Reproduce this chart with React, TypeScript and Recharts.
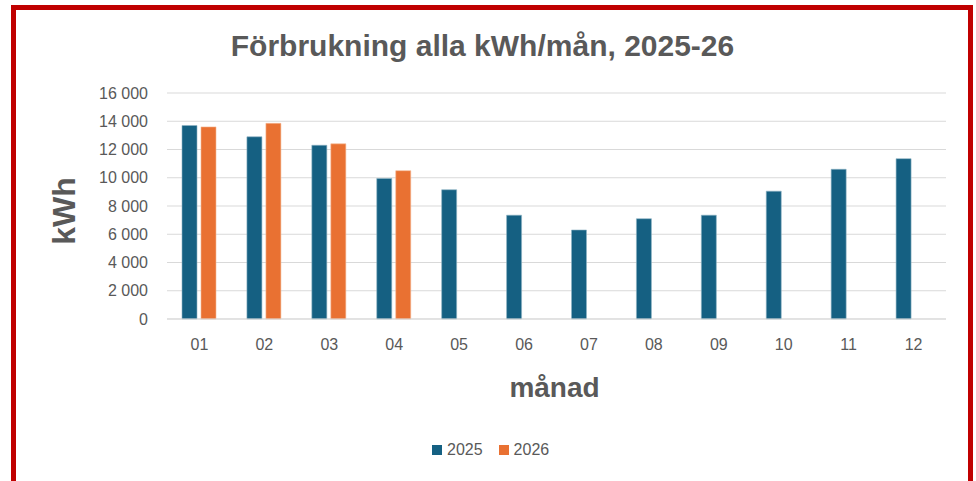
import { BarChart, Bar, XAxis, YAxis, CartesianGrid, Legend } from "recharts";

const MONTHS = ["01", "02", "03", "04", "05", "06", "07", "08", "09", "10", "11", "12"];
const KWH_2025 = [13700, 12900, 12300, 9950, 9150, 7350, 6300, 7100, 7350, 9050, 10600, 11350];
const KWH_2026 = [13600, 13850, 12400, 10500, null, null, null, null, null, null, null, null];
const Y_TICKS = [0, 2000, 4000, 6000, 8000, 10000, 12000, 14000, 16000];

const BLUE = "#156082";
const ORANGE = "#E97132";
const TEXT = "#595959";
const FONT = "'Liberation Sans', Arial, sans-serif";

const fmt = (v: number) => v.toLocaleString("sv-SE").replace(/\u00a0/g, " ");

// y axis title, rotated, placed inside the axis box
const YTitle = ({ viewBox }: any) => {
  const x = viewBox.x + 75;
  const y = viewBox.y + viewBox.height / 2 + 5;
  return (
    <text x={x} y={y} transform={`rotate(-90, ${x}, ${y})`} textAnchor="middle" fill={TEXT} fontSize={32} fontWeight={700} fontFamily={FONT}>
      kWh
    </text>
  );
};

const XTitle = ({ viewBox }: any) => (
  <text x={viewBox.x + viewBox.width / 2 - 2} y={viewBox.y + 78} textAnchor="middle" fill={TEXT} fontSize={28} fontWeight={700} fontFamily={FONT}>
    månad
  </text>
);

const LegendRow = ({ payload }: any) => (
  <div style={{ display: "flex", alignItems: "center", height: 20, fontFamily: FONT, fontSize: 16, color: TEXT }}>
    {(payload || []).map((p: any, i: number) => (
      <div key={p.value} style={{ display: "flex", alignItems: "center", marginLeft: i ? 16 : 0 }}>
        <span style={{ width: 10, height: 10, background: p.color, display: "inline-block", marginRight: 5 }} />
        <span>{p.value}</span>
      </div>
    ))}
  </div>
);

export default function App() {
  const data = MONTHS.map((m, i) => ({ month: m, y2025: KWH_2025[i], y2026: KWH_2026[i] }));

  return (
    <div style={{ position: "absolute", left: 0, top: 0, width: 976, height: 481, background: "#fff", overflow: "hidden", fontFamily: FONT }}>
      <div
        style={{
          position: "absolute",
          left: 11,
          top: 5,
          width: 952,
          height: 500,
          border: "5px solid #C00000",
          borderBottom: "none",
        }}
      />
      <div
        style={{
          position: "absolute",
          left: 0,
          top: 29,
          width: 965,
          textAlign: "center",
          fontSize: 30,
          fontWeight: 700,
          color: TEXT,
          lineHeight: "normal",
        }}
      >
        Förbrukning alla kWh/mån, 2025-26
      </div>
      <div style={{ position: "absolute", left: 0, top: 0 }}>
        <BarChart
          width={976}
          height={481}
          data={data}
          margin={{ top: 93, right: 30, bottom: 72, left: 0 }}
          barSize={15}
          barGap={4}
        >
          <CartesianGrid vertical={false} stroke="#d9d9d9" />
          <XAxis
            dataKey="month"
            height={90}
            axisLine={{ stroke: "#d9d9d9" }}
            tickLine={false}
            tickMargin={14}
            tick={{ fill: TEXT, fontSize: 16, fontFamily: FONT }}
            label={{ content: XTitle }}
          />
          <YAxis
            width={167}
            domain={[0, 16000]}
            ticks={Y_TICKS}
            axisLine={false}
            tickLine={false}
            tickMargin={13}
            tickFormatter={fmt}
            tick={{ fill: TEXT, fontSize: 16, fontFamily: FONT }}
            label={{ content: YTitle }}
          />
          <Legend
            verticalAlign="middle"
            content={LegendRow}
            wrapperStyle={{ top: 440, left: 432, width: "auto" }}
          />
          <Bar dataKey="y2025" name="2025" fill={BLUE} stroke="#8fb3c5" strokeWidth={0.6} isAnimationActive={false} />
          <Bar dataKey="y2026" name="2026" fill={ORANGE} stroke="#f5b896" strokeWidth={0.6} isAnimationActive={false} />
        </BarChart>
      </div>
    </div>
  );
}
